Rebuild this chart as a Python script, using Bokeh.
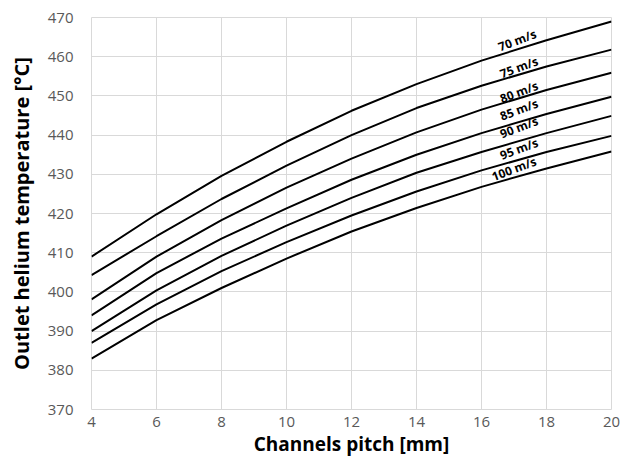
from bokeh.plotting import figure
from bokeh.models import Range1d, FixedTicker, ColumnDataSource
from bokeh.core.properties import value
from bokeh.embed import file_html
from bokeh.resources import INLINE

# Channels pitch [mm]
pitch = [4, 6, 8, 10, 12, 14, 16, 18, 20]

# Outlet helium temperature [°C] for each helium velocity
t70 = [409.0, 419.8, 429.6, 438.3, 446.2, 453.0, 459.0, 464.2, 469.0]
t75 = [404.3, 414.2, 423.7, 432.2, 440.0, 446.9, 452.6, 457.5, 461.8]
t80 = [398.1, 409.0, 418.3, 426.6, 434.0, 440.7, 446.5, 451.5, 455.9]
t85 = [394.0, 404.8, 413.6, 421.3, 428.6, 435.0, 440.5, 445.4, 449.8]
t90 = [390.0, 400.4, 409.2, 416.9, 424.0, 430.4, 435.7, 440.5, 444.9]
t95 = [387.0, 396.8, 405.3, 412.7, 419.5, 425.6, 431.0, 435.7, 439.8]
t100 = [383.0, 392.8, 401.0, 408.5, 415.4, 421.4, 426.8, 431.5, 435.8]

series = [t70, t75, t80, t85, t90, t95, t100]

# Curve labels
label_text = ["70 m/s", "75 m/s", "80 m/s", "85 m/s", "90 m/s", "95 m/s", "100 m/s"]
label_x = [17.1, 17.15, 17.15, 17.15, 17.15, 17.15, 17.0]
label_y = [464.2, 457.3, 451.0, 446.5, 442.0, 436.5, 431.4]

x_ticks = [4, 6, 8, 10, 12, 14, 16, 18, 20]
y_ticks = [370, 380, 390, 400, 410, 420, 430, 440, 450, 460, 470]

p = figure(width=621, height=459, output_backend="svg", toolbar_location=None,
           x_range=Range1d(4, 20), y_range=Range1d(370, 470),
           min_border_left=91, min_border_right=10, min_border_top=17, min_border_bottom=50)

p.outline_line_color = "#d9d9d9"
p.background_fill_color = "white"
p.border_fill_color = "white"

for ax in (p.xaxis, p.yaxis):
    ax.axis_line_color = None
    ax.major_tick_line_color = None
    ax.minor_tick_line_color = None
    ax.major_tick_out = 0
    ax.major_tick_in = 0
    ax.major_label_text_font = "Open Sans"
    ax.major_label_text_font_size = "15px"
    ax.major_label_text_color = "#595959"
    ax.major_label_text_line_height = 1.0
    ax.axis_label_text_font = "Open Sans"
    ax.axis_label_text_font_style = "bold"
    ax.axis_label_text_color = "black"
    ax.axis_label_text_line_height = 1.0

p.xaxis.ticker = FixedTicker(ticks=x_ticks)
p.yaxis.ticker = FixedTicker(ticks=y_ticks)
p.xaxis.major_label_standoff = 7
p.yaxis.major_label_standoff = 18
p.xaxis.axis_label = "Channels pitch [mm]"
p.yaxis.axis_label = "Outlet helium temperature [°C]"
p.xaxis.axis_label_text_font_size = "19px"
p.yaxis.axis_label_text_font_size = "20px"
p.xaxis.axis_label_standoff = 1
p.yaxis.axis_label_standoff = 10

p.xgrid.grid_line_color = "#d9d9d9"
p.ygrid.grid_line_color = "#d9d9d9"
p.xgrid.grid_line_width = 1
p.ygrid.grid_line_width = 1

for s in series:
    p.line(pitch, s, line_color="black", line_width=2)

src = ColumnDataSource(dict(x=label_x, y=label_y, t=label_text))
p.text(x="x", y="y", text="t", source=src, angle=0.36,
       text_font=value("Open Sans"), text_font_style="bold",
       text_font_size="12px", text_color="black",
       text_align="center", text_baseline="middle")

open("out.html", "w").write(file_html(p, INLINE))
